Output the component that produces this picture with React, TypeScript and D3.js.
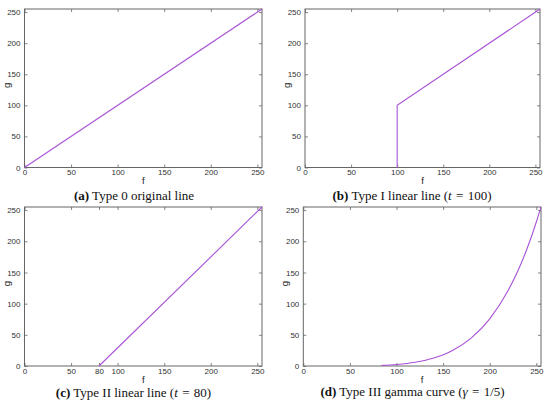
import { useEffect, useRef } from "react";
import * as d3 from "d3";

// Values (f = input, g = output)
const typeZeroF = [0, 255];
const typeZeroG = [0, 255];

const typeOneF = [100, 100, 255];
const typeOneG = [0, 100, 255];

const typeTwoF = [80, 255];
const typeTwoG = [0, 255];

const typeThreeF = [84, 100, 120, 140, 160, 180, 200, 220, 230, 240, 250, 255];
const typeThreeG = [1, 2.4, 5.9, 12.7, 24.8, 44.7, 75.6, 121.9, 152, 188, 231, 255];

const ticksStandard = [0, 50, 100, 150, 200, 250];
const ticksTypeTwo = [0, 50, 80, 100, 150, 200, 250];
const ticksG = [0, 50, 100, 150, 200, 250];

interface Panel {
  letra: string;
  titulo: string;
  simbolo?: string;
  valor?: string;
  f: number[];
  g: number[];
  ticksF: number[];
  curva: boolean;
  caja: { x0: number; x1: number; y0: number; y1: number };
  centroTitulo: number;
  baseTitulo: number;
}

const paneles: Panel[] = [
  { letra: "(a)", titulo: " Type 0 original line", f: typeZeroF, g: typeZeroG, ticksF: ticksStandard, curva: false,
    caja: { x0: 24.5, x1: 262, y0: 9, y1: 167.5 }, centroTitulo: 134, baseTitulo: 200 },
  { letra: "(b)", titulo: " Type I linear line (", simbolo: "t", valor: "100", f: typeOneF, g: typeOneG, ticksF: ticksStandard, curva: false,
    caja: { x0: 305, x1: 540, y0: 9, y1: 167.5 }, centroTitulo: 412, baseTitulo: 200 },
  { letra: "(c)", titulo: " Type II linear line (", simbolo: "t", valor: "80", f: typeTwoF, g: typeTwoG, ticksF: ticksTypeTwo, curva: false,
    caja: { x0: 24.5, x1: 262, y0: 207, y1: 366 }, centroTitulo: 133.5, baseTitulo: 397 },
  { letra: "(d)", titulo: " Type III gamma curve (", simbolo: "\u03b3", valor: "1/5", f: typeThreeF, g: typeThreeG, ticksF: ticksStandard, curva: true,
    caja: { x0: 303.3, x1: 541, y0: 207, y1: 366 }, centroTitulo: 412.5, baseTitulo: 396 },
];

const COLOR_LINEA = "#a952d6";
const COLOR_MARCO = "#666";
const FUENTE_SANS = "'Liberation Sans', Arial, sans-serif";
const FUENTE_SERIF = "'Liberation Serif', 'DejaVu Serif', serif";

export default function App() {
  const svgRef = useRef<SVGSVGElement>(null);
  const ANCHO = 550;
  const ALTO = 407;

  useEffect(() => {
    if (!svgRef.current) return;
    const svg = d3.select(svgRef.current);
    svg.selectAll("*").remove();

    paneles.forEach((p) => {
      const { x0, x1, y0, y1 } = p.caja;
      const x = d3.scaleLinear().domain([0, 255]).range([x0, x1]);
      const y = d3.scaleLinear().domain([0, 255]).range([y1, y0]);
      const g = svg.append("g");

      // Bottom and left axes with inward ticks, mirrored on top and right
      const ejeX = g.append("g").attr("transform", `translate(0,${y1})`)
        .call(d3.axisBottom(x).tickValues(p.ticksF).tickSize(-3).tickPadding(2));
      const ejeY = g.append("g").attr("transform", `translate(${x0},0)`)
        .call(d3.axisLeft(y).tickValues(ticksG).tickSize(-3).tickPadding(4));
      const ejeXArriba = g.append("g").attr("transform", `translate(0,${y0})`)
        .call(d3.axisTop(x).tickValues(p.ticksF).tickSize(-3).tickFormat(() => ""));
      const ejeYDerecha = g.append("g").attr("transform", `translate(${x1},0)`)
        .call(d3.axisRight(y).tickValues(ticksG).tickSize(-3).tickFormat(() => ""));

      [ejeX, ejeY, ejeXArriba, ejeYDerecha].forEach((e) => {
        e.select(".domain").remove();
        e.selectAll("line").attr("stroke", COLOR_MARCO).attr("stroke-width", 0.8);
        e.selectAll("text").attr("fill", "#333").attr("font-size", 8).attr("font-family", FUENTE_SANS);
      });

      g.append("rect")
        .attr("x", x0).attr("y", y0).attr("width", x1 - x0).attr("height", y1 - y0)
        .attr("fill", "none").attr("stroke", COLOR_MARCO).attr("stroke-width", 1);

      const puntos = p.f.map((f, i) => [f, p.g[i]] as [number, number]);
      const linea = d3.line<[number, number]>()
        .x((d) => x(d[0]))
        .y((d) => y(d[1]))
        .curve(p.curva ? d3.curveMonotoneX : d3.curveLinear);
      g.append("path").datum(puntos).attr("d", linea)
        .attr("fill", "none").attr("stroke", COLOR_LINEA).attr("stroke-width", 1.1);

      // Axis names
      g.append("text").attr("x", (x0 + x1) / 2).attr("y", y1 + 16.5)
        .attr("text-anchor", "middle").attr("font-family", FUENTE_SANS).attr("font-size", 9.5).attr("fill", "#222")
        .text("f");
      const gy = (y0 + y1) / 2 - 3;
      g.append("text").attr("transform", `translate(${x0 - 15},${gy}) rotate(-90)`)
        .attr("text-anchor", "middle").attr("font-family", FUENTE_SANS).attr("font-size", 9.5).attr("fill", "#222")
        .text("g");

      // Caption under the plot
      const t = g.append("text").attr("x", p.centroTitulo).attr("y", p.baseTitulo)
        .attr("text-anchor", "middle").attr("font-family", FUENTE_SERIF).attr("font-size", 13).attr("fill", "#111");
      t.append("tspan").attr("font-weight", "bold").text(p.letra);
      t.append("tspan").text(p.titulo);
      if (p.simbolo) {
        t.append("tspan").attr("font-style", "italic").text(p.simbolo);
        t.append("tspan").text("\u2004=\u2004" + p.valor + ")");
      }
    });
  }, []);

  return (
    <svg
      ref={svgRef}
      width={ANCHO}
      height={ALTO}
      viewBox={`0 0 ${ANCHO} ${ALTO}`}
      style={{ position: "absolute", left: 0, top: 0, background: "#fff" }}
    />
  );
}
